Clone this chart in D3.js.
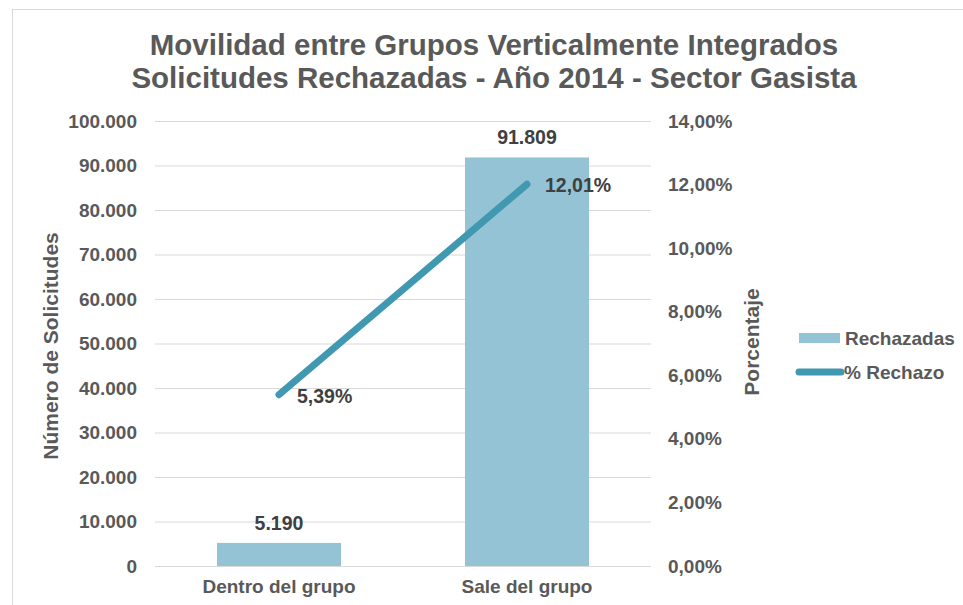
<!DOCTYPE html>
<html>
<head>
<meta charset="utf-8">
<script src="https://cdn.jsdelivr.net/npm/d3@7"></script>
<style>
  body { margin: 0; background: #fff; }
  svg text { font-family: "Liberation Sans", Arial, sans-serif; font-weight: bold; }
</style>
</head>
<body>
<svg id="chart" width="963" height="605"></svg>
<script>
// datos
const categories = ["Dentro del grupo", "Sale del grupo"]
const rechazadas = [5190, 91809]
const pctRechazo = [5.39, 12.01]
const leftTicks = [0, 10000, 20000, 30000, 40000, 50000, 60000, 70000, 80000, 90000, 100000]
const rightTicks = [0, 2, 4, 6, 8, 10, 12, 14]
const titleLines = ["Movilidad entre Grupos Verticalmente Integrados",
                    "Solicitudes Rechazadas - Año 2014 - Sector Gasista"]

const svg = d3.select("#chart")
const plot = {left: 155, right: 651, top: 121, bottom: 566}
const barColor = "#93c3d5"
const lineColor = "#4198b1"
const textColor = "#595959"

const fmtNum = d => d3.format(",")(d).replace(/,/g, ".")
const fmtPct = (d, n) => d.toFixed(n).replace(".", ",") + "%"

// chart border
svg.append("rect")
    .attr("x", 12.5).attr("y", 9.5)
    .attr("width", 970).attr("height", 620)
    .attr("fill", "none").attr("stroke", "#d9d9d9")

const x = d3.scaleBand()
    .domain(categories)
    .range([plot.left, plot.right])
    .paddingInner(0.5)
    .paddingOuter(0.25)

const yL = d3.scaleLinear().domain([0, 100000]).range([plot.bottom, plot.top])
const yR = d3.scaleLinear().domain([0, 14]).range([plot.bottom, plot.top])

// grid
svg.append("g")
    .attr("transform", `translate(${plot.left},0)`)
    .call(d3.axisLeft(yL).tickValues(leftTicks).tickSize(-(plot.right - plot.left)).tickFormat(fmtNum).tickPadding(18))
    .call(g => g.select(".domain").remove())
    .call(g => g.selectAll("line").attr("stroke", "#d9d9d9"))
    .call(g => g.selectAll("text").attr("fill", textColor).style("font-size", "19px"))

svg.append("g")
    .attr("transform", `translate(${plot.right},0)`)
    .call(d3.axisRight(yR).tickValues(rightTicks).tickSize(0).tickFormat(d => fmtPct(d, 2)).tickPadding(17))
    .call(g => g.select(".domain").remove())
    .call(g => g.selectAll("text").attr("fill", textColor).style("font-size", "19px"))

svg.append("g")
    .attr("transform", `translate(0,${plot.bottom})`)
    .call(d3.axisBottom(x).tickSize(0).tickPadding(14))
    .call(g => g.select(".domain").remove())
    .call(g => g.selectAll("text").attr("fill", textColor).style("font-size", "19px"))

// barras
svg.selectAll(".bar")
    .data(categories)
    .enter()
    .append("rect")
        .attr("class", "bar")
        .attr("x", d => x(d))
        .attr("y", (d, i) => yL(rechazadas[i]))
        .attr("width", x.bandwidth())
        .attr("height", (d, i) => plot.bottom - yL(rechazadas[i]))
        .attr("fill", barColor)

svg.selectAll(".barlabel")
    .data(categories)
    .enter()
    .append("text")
        .attr("x", d => x(d) + x.bandwidth() / 2)
        .attr("y", (d, i) => yL(rechazadas[i]) - 13)
        .attr("text-anchor", "middle")
        .attr("fill", "#404040")
        .style("font-size", "19.5px")
        .text((d, i) => fmtNum(rechazadas[i]))

// linea
const line = d3.line()
    .x((d, i) => x(categories[i]) + x.bandwidth() / 2)
    .y(d => yR(d))

svg.append("path")
    .datum(pctRechazo)
    .attr("d", line)
    .attr("fill", "none")
    .attr("stroke", lineColor)
    .attr("stroke-width", 7)
    .attr("stroke-linecap", "round")

svg.selectAll(".pctlabel")
    .data(pctRechazo)
    .enter()
    .append("text")
        .attr("x", (d, i) => x(categories[i]) + x.bandwidth() / 2 + 18)
        .attr("y", d => yR(d) + 8)
        .attr("fill", "#404040")
        .style("font-size", "19.5px")
        .text(d => fmtPct(d, 2))

// titulos
svg.selectAll(".title")
    .data(titleLines)
    .enter()
    .append("text")
        .attr("x", 494)
        .attr("y", (d, i) => 55 + i * 33)
        .attr("text-anchor", "middle")
        .attr("fill", textColor)
        .style("font-size", "29.5px")
        .text(d => d)

svg.append("text")
    .attr("transform", "translate(58,346) rotate(-90)")
    .attr("text-anchor", "middle")
    .attr("fill", textColor)
    .style("font-size", "21px")
    .text("Número de Solicitudes")

svg.append("text")
    .attr("transform", "translate(759,342) rotate(-90)")
    .attr("text-anchor", "middle")
    .attr("fill", textColor)
    .style("font-size", "21px")
    .text("Porcentaje")

// leyenda
const legend = svg.append("g")
legend.append("rect")
    .attr("x", 799).attr("y", 333).attr("width", 41).attr("height", 10)
    .attr("fill", barColor)
legend.append("text")
    .attr("x", 845).attr("y", 345)
    .attr("fill", textColor).style("font-size", "19px")
    .text("Rechazadas")
legend.append("line")
    .attr("x1", 799).attr("x2", 841).attr("y1", 372).attr("y2", 372)
    .attr("stroke", lineColor).attr("stroke-width", 7).attr("stroke-linecap", "round")
legend.append("text")
    .attr("x", 844).attr("y", 379)
    .attr("fill", textColor).style("font-size", "19px")
    .text("% Rechazo")
</script>
</body>
</html>
